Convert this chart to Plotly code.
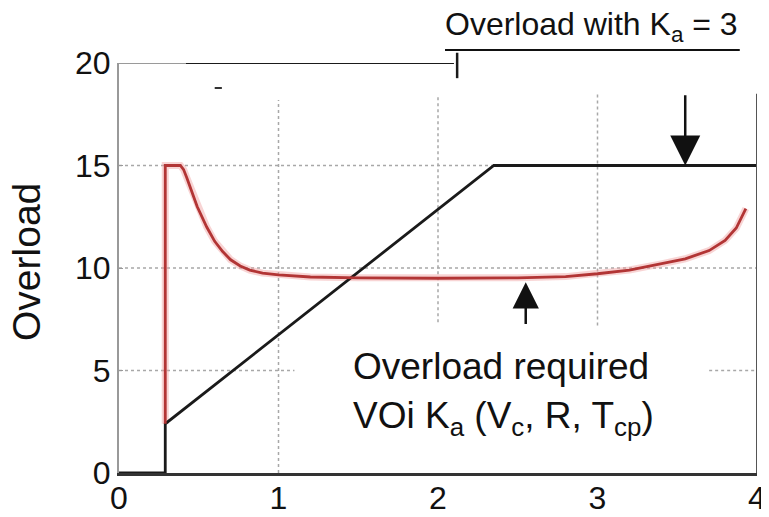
import plotly.graph_objects as go

# ---- data ----
black_x = [0.0, 0.29, 0.29, 2.35, 4.0]
black_y = [0.0, 0.0, 2.4, 15.0, 15.0]

red_x = [0.29, 0.29, 0.385, 0.405, 0.425, 0.45, 0.49, 0.55, 0.60, 0.65, 0.70, 0.76, 0.82,
         0.90, 1.0, 1.2, 1.5, 2.0, 2.5, 2.8, 3.0, 3.2, 3.4, 3.55, 3.7, 3.8, 3.87, 3.93]
red_y = [2.4, 15.0, 15.0, 14.8, 14.4, 13.9, 13.0, 12.0, 11.3, 10.8, 10.4, 10.1, 9.9,
         9.75, 9.66, 9.56, 9.52, 9.5, 9.52, 9.58, 9.72, 9.9, 10.2, 10.45, 10.85, 11.35,
         11.95, 12.9]

x_ticks = [0, 1, 2, 3, 4]
y_ticks = [0, 5, 10, 15, 20]

FONT = "Liberation Sans, Arial, sans-serif"

fig = go.Figure()

# soft halo under red curve
fig.add_trace(go.Scatter(x=red_x, y=red_y, mode="lines",
                         line=dict(color="rgba(240,160,160,0.45)", width=7),
                         hoverinfo="skip", showlegend=False))
fig.add_trace(go.Scatter(x=black_x, y=black_y, mode="lines",
                         line=dict(color="#1a1a1a", width=2.8), showlegend=False))
fig.add_trace(go.Scatter(x=red_x, y=red_y, mode="lines",
                         line=dict(color="#b23535", width=2.8), showlegend=False))

grid = dict(color="#a8a8a8", width=1.5, dash="dot")
shapes = [
    # vertical grid
    dict(type="line", x0=1, x1=1, y0=0, y1=18.2, line=grid, layer="below"),
    dict(type="line", x0=2, x1=2, y0=7.35, y1=18.4, line=grid, layer="below"),
    dict(type="line", x0=3, x1=3, y0=7.2, y1=18.5, line=grid, layer="below"),
    # horizontal grid
    dict(type="line", x0=0, x1=4, y0=15, y1=15, line=grid, layer="below"),
    dict(type="line", x0=0, x1=4, y0=10, y1=10, line=grid, layer="below"),
    dict(type="line", x0=0, x1=1.1, y0=5, y1=5, line=grid, layer="below"),
    dict(type="line", x0=3.7, x1=4, y0=5, y1=5, line=grid, layer="below"),
    # right frame
    dict(type="line", x0=4, x1=4, y0=0, y1=18.5, line=dict(color="#555555", width=2)),
    # top frame pieces
    dict(type="line", x0=0, x1=0.42, y0=20, y1=20, line=dict(color="#9a9a9a", width=2)),
    dict(type="line", x0=0.42, x1=2.1, y0=20, y1=20, line=dict(color="#1a1a1a", width=2)),
    dict(type="line", x0=2.12, x1=2.12, y0=0.963, y1=1.025, xref="x", yref="paper",
         line=dict(color="#1a1a1a", width=2.5)),
    # small dash artifact
    dict(type="line", x0=0.6, x1=0.645, y0=18.78, y1=18.78, line=dict(color="#333333", width=2)),
    # title underline
    dict(type="line", x0=0.511, x1=0.973, y0=1.0317, y1=1.0317, xref="paper", yref="paper",
         line=dict(color="#111111", width=2)),
]

annotations = [
    dict(x=0.74, y=1.088, xref="paper", yref="paper", text="Overload with K<sub>a</sub> = 3",
         showarrow=False, font=dict(family=FONT, size=32, color="#111111"),
         xanchor="center", yanchor="middle"),
    dict(x=1.455, y=5.2, xref="x", yref="y", text="Overload required",
         showarrow=False, font=dict(family=FONT, size=37, color="#111111"),
         xanchor="left", yanchor="middle"),
    dict(x=1.455, y=2.7, xref="x", yref="y",
         text="VOi K<sub>a</sub> (V<sub>c</sub>, R, T<sub>cp</sub>)",
         showarrow=False, font=dict(family=FONT, size=37, color="#111111"),
         xanchor="left", yanchor="middle"),
    # arrows
    dict(x=3.55, y=15.0, ax=3.55, ay=18.5, xref="x", yref="y", axref="x", ayref="y",
         text="", showarrow=True, arrowhead=2, arrowsize=2.4, arrowwidth=2.5,
         arrowcolor="#111111", standoff=0),
    dict(x=2.55, y=9.3, ax=2.55, ay=7.2, xref="x", yref="y", axref="x", ayref="y",
         text="", showarrow=True, arrowhead=2, arrowsize=2.1, arrowwidth=2.5,
         arrowcolor="#111111", standoff=0),
    # y-axis title
    dict(x=-0.144, y=0.515, xref="paper", yref="paper", text="Overload",
         showarrow=False, textangle=-90, font=dict(family=FONT, size=39, color="#111111"),
         xanchor="center", yanchor="middle"),
]

# page body has an 8px default margin, so size/margins are offset to compensate
fig.update_layout(
    width=761, height=509,
    margin=dict(l=111, r=12, t=55, b=44),
    paper_bgcolor="white", plot_bgcolor="white",
    showlegend=False,
    shapes=shapes, annotations=annotations,
    font=dict(family=FONT, color="#111111"),
)
fig.update_xaxes(range=[0, 4], tickvals=x_ticks, ticktext=[str(v) for v in x_ticks],
                 showgrid=False, zeroline=False, showline=True, linecolor="#333333",
                 linewidth=2.5, ticks="", automargin=False, ticklabelstandoff=-5,
                 tickfont=dict(family=FONT, size=32, color="#111111"))
fig.update_yaxes(range=[0, 20], tickvals=y_ticks, ticktext=[str(v) for v in y_ticks],
                 showgrid=False, zeroline=False, showline=True, linecolor="#999999",
                 linewidth=2, ticks="inside", ticklen=4, tickcolor="#999999",
                 automargin=False, tickfont=dict(family=FONT, size=32, color="#111111"))

fig.write_html("out.html")
